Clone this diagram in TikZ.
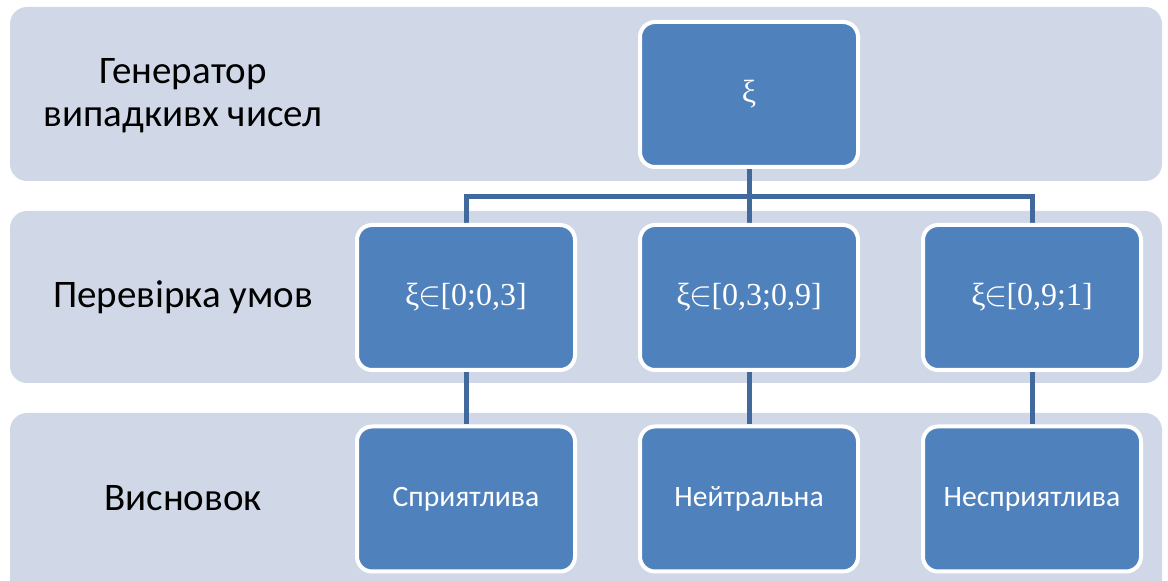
\documentclass[tikz,border=0pt]{standalone}
\usepackage{fontspec}
\setmainfont{Carlito}
\newfontfamily\mathserif{Liberation Serif}
\usetikzlibrary{backgrounds}
\definecolor{bandfill}{HTML}{D0D8E8}
\definecolor{boxfill}{HTML}{4F81BD}
\definecolor{linkcol}{HTML}{41699B}
\begin{document}
\begin{tikzpicture}[x=0.5pt, y=-0.5pt,
    band/.style={fill=bandfill, rounded corners=8.5pt},
    box/.style={draw=white, line width=2pt, fill=boxfill, rounded corners=7.5pt,
      minimum width=109pt, minimum height=72.5pt, text=white, align=center,
      font=\fontsize{14.8}{17}\selectfont},
    cond/.style={box, font=\mathserif\fontsize{16}{18}\selectfont},
    label/.style={align=center, font=\fontsize{19.5}{21.5}\selectfont},
    link/.style={draw=linkcol, line width=2.5pt}]
  \useasboundingbox (0, 0) rectangle (1168, 581);
  % row labels
  \node [label] (gen) at (183, 96) {Генератор\\випадкивх чисел};
  \node [label] (check) at (183, 297) {Перевірка умов};
  \node [label] (concl) at (183, 498) {Висновок};
  % nodes
  \node [cond] (xi) at (749, 94.5) {ξ};
  \node [cond] (c1) at (466, 297.5) {ξ\kern-0.5pt$\in$\kern-0.5pt[0;0,3]};
  \node [cond] (c2) at (749, 297.5) {ξ\kern-0.5pt$\in$\kern-0.5pt[0,3;0,9]};
  \node [cond] (c3) at (1032, 297.5) {ξ\kern-0.5pt$\in$\kern-0.5pt[0,9;1]};
  \node [box] (r1) at (466, 499) {Сприятлива};
  \node [box] (r2) at (749, 499) {Нейтральна};
  \node [box] (r3) at (1032, 499) {Несприятлива};
  \begin{scope}[on background layer]
    % bands
    \fill [band] (10, 7) rectangle (1162, 181);
    \fill [band] (10, 211) rectangle (1162, 383);
    \fill [band] (10, 413) rectangle (1162, 600);
    % connectors
    \coordinate (split) at (749, 197);
    \draw [link] (xi) -- (c2);
    \draw [link] (split) -| (c1);
    \draw [link] (split) -| (c3);
    \draw [link] (c1) -- (r1);
    \draw [link] (c2) -- (r2);
    \draw [link] (c3) -- (r3);
  \end{scope}
\end{tikzpicture}
\end{document}
